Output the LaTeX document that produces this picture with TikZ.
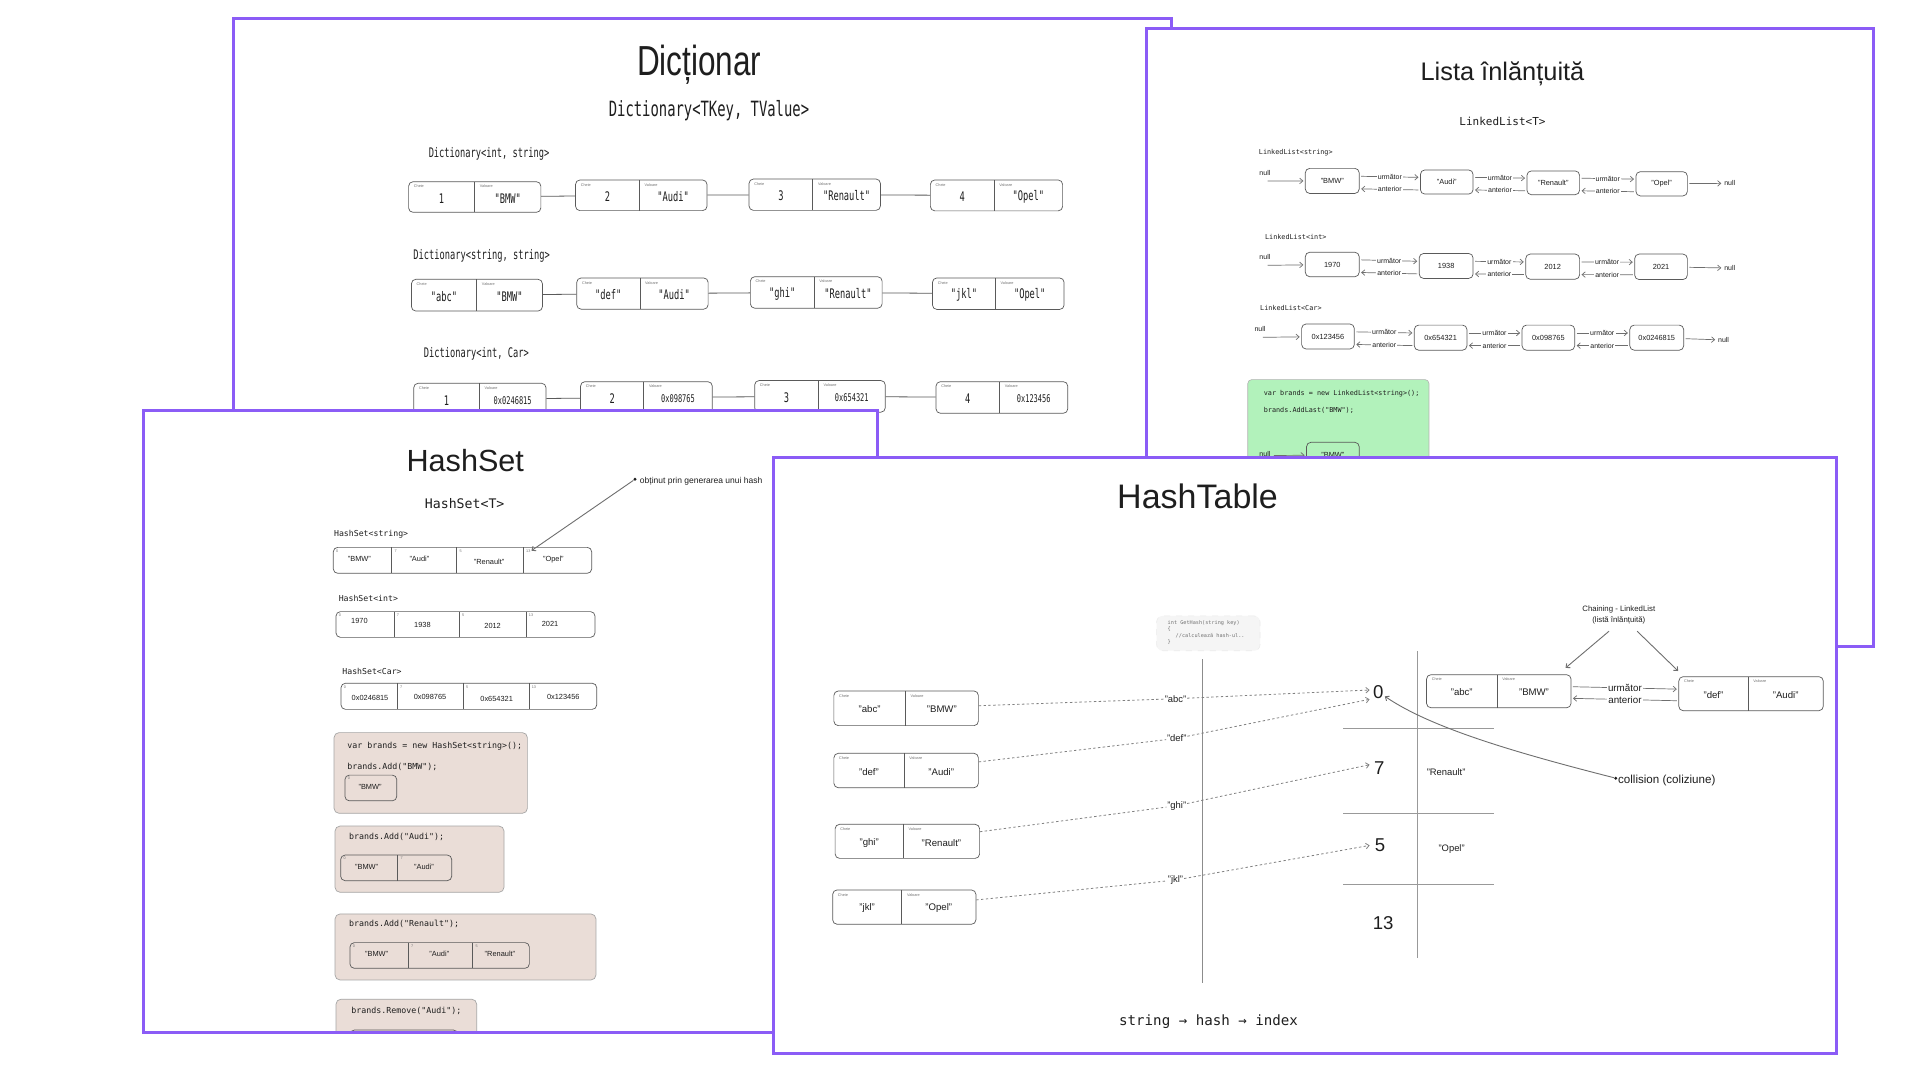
\documentclass[tikz,border=0pt]{standalone}
\usepackage{fontspec}
\setmainfont{Liberation Sans}
\newfontfamily\monof{DejaVu Sans Mono}
\newfontfamily\dmono[FakeStretch=0.66]{DejaVu Sans Mono}
\newfontfamily\dtitle[FakeStretch=0.75]{Liberation Sans}
\usetikzlibrary{arrows.meta}
\newcommand\fsz[1]{\fontsize{#1}{#1}\selectfont}
\def\U{0.6122pt}
\definecolor{panelc}{HTML}{8B5CF6}
\definecolor{beige}{HTML}{EADDD7}
\definecolor{mint}{HTML}{B2F2BB}
\definecolor{strokec}{HTML}{5A5A5A}
\definecolor{inkc}{HTML}{1E1E1E}
\definecolor{linec}{HTML}{6E6E6E}
\tikzset{
  panel/.style={draw=panelc, line width=1.5pt, fill=white},
  box/.style={draw=strokec, line width=0.35pt, rounded corners=2.2pt, inner sep=0pt},
  divl/.style={draw=strokec, line width=0.35pt},
  tinyl/.style={font=\fsz{1.9pt}, text=black!55, inner sep=0pt},
  txt/.style={inner sep=0.5pt, text=inkc},
  dval/.style={txt, font=\dmono\fsz{6.6pt}},
  dlab/.style={txt, font=\dmono\fsz{6.6pt}, anchor=west},
  dconn/.style={draw=strokec, line width=0.4pt},
  tip/.style={-{Straight Barb[length=1.6pt,width=2.8pt]}},
  llarr/.style={draw=linec, line width=0.35pt, tip, shorten <=0.8pt, shorten >=0.8pt},
  lllab/.style={txt, font=\fsz{3.5pt}, fill=white, inner sep=0.6pt},
  htlab/.style={txt, font=\fsz{4.9pt}, fill=white, inner sep=0.6pt},
  llbox/.style={box, font=\fsz{3.7pt}, text=inkc},
  llname/.style={txt, font=\monof\fsz{3.4pt}, anchor=west},
  nulll/.style={txt, font=\fsz{3.5pt}},
  gbox/.style={draw=black!30, fill=mint, line width=0.3pt, rounded corners=2pt, inner sep=0pt},
  bbox/.style={draw=black!35, fill=beige, line width=0.35pt, rounded corners=2.5pt, inner sep=0pt},
  hslab/.style={txt, font=\monof\fsz{4.1pt}, anchor=west},
  hsval/.style={txt, font=\fsz{3.7pt}},
  hscode/.style={txt, font=\monof\fsz{4.15pt}, anchor=west},
  htkv/.style={txt, font=\fsz{4.8pt}},
  hl/.style={txt, font=\fsz{4.7pt}, inner sep=0.3pt},
  dotl/.style={draw=black!50, line width=0.4pt, dash pattern=on 1.2pt off 1.2pt},
  tabl/.style={draw=black!40, line width=0.5pt},
  idxn/.style={txt, font=\fsz{9.3pt}},
  grayarr/.style={draw=linec, line width=0.45pt, tip},
  codebox/.style={fill=black!4, draw=black!8, line width=0.3pt, dashed, rounded corners=3pt, inner sep=0pt},
}
\newcommand\rb[6]{\node[#1, minimum width={(#5-#3)*\U}, minimum height={(#6-#4)*\U}] (#2) at ({(#3+#5)/2},{(#4+#6)/2})}
\newcommand\kvb[9]{%
  \rb{box}{#1}{#2}{#5}{#4}{#6}{};
  \draw[divl] (#3,#5) -- (#3,#6);
  \node[tinyl, anchor=north west] (#1c) at (#2+4,#5+2.5) {Cheie};
  \node[tinyl, anchor=north west] (#1w) at (#3+4,#5+2.5) {Valoare};
  \node[#9] (#1k) at ({(#2+#3)/2},{(#5+#6)/2+1}) {#7};
  \node[#9] (#1v) at ({(#3+#4)/2},{(#5+#6)/2+1}) {#8};
}
\newcommand\lllink[5]{%
  \draw[llarr] ([yshift={#3*\U}]#1.east) -- node[#5] (#1#2u) {următor} ([yshift={#3*\U}]#2.west);
  \draw[llarr] ([yshift={-#4*\U}]#2.west) -- node[#5] (#1#2a) {anterior} ([yshift={-#4*\U}]#1.east);
}
\newcommand\hsc[7]{%
  \node[tinyl, anchor=north west] (#1i) at (#2+2,#3+1.5) {#4};
  \node[hsval] (#1) at (#5,#6) {#7};
}
\begin{document}
\begin{tikzpicture}[x=0.6122pt, y=-0.6122pt]
\useasboundingbox[fill=white] (0,0) rectangle (1568,882);

% ================= Dictionary =================
\draw[panel] (191,15) rectangle (957,450);
\node[txt, font=\dtitle\fsz{21pt}] (dtitle) at (571,53) {Dicționar};
\node[txt, font=\dmono\fsz{10.5pt}] (dsub) at (579,90) {Dictionary<TKey, TValue>};
\node[dlab] (dl1) at (349,126) {Dictionary<int, string>};
\node[dlab] (dl2) at (336.5,209) {Dictionary<string, string>};
\node[dlab] (dl3) at (345,289) {Dictionary<int, Car>};

\kvb{d11}{333.7}{387.6}{441.7}{148.4}{173.4}{1}{"BMW"}{dval}
\kvb{d12}{470}{522.2}{577.4}{147}{172}{2}{"Audi"}{dval}
\kvb{d13}{611.7}{663.8}{719}{146.2}{171.8}{3}{"Renault"}{dval}
\kvb{d14}{759.8}{811.8}{867.8}{147}{172.2}{4}{"Opel"}{dval}
\draw[dconn] (d11) -- (d12);
\draw[dconn] (d12) -- (d13);
\draw[dconn] (d13) -- (d14);

\kvb{d21}{336}{389.3}{443}{228.1}{254}{"abc"}{"BMW"}{dval}
\kvb{d22}{471}{522.6}{578.3}{227}{252.5}{"def"}{"Audi"}{dval}
\kvb{d23}{612.8}{664.8}{720.4}{226}{251.7}{"ghi"}{"Renault"}{dval}
\kvb{d24}{761.5}{812.9}{869}{227}{252.7}{"jkl"}{"Opel"}{dval}
\draw[dconn] (d21) -- (d22);
\draw[dconn] (d22) -- (d23);
\draw[dconn] (d23) -- (d24);

\kvb{d31}{337.9}{391.5}{445.9}{313}{339}{1}{\fsz{5.3pt}0x0246815}{dval}
\kvb{d32}{474.1}{525.7}{581.7}{311.7}{337.5}{2}{\fsz{5.3pt}0x098765}{dval}
\kvb{d33}{616.3}{668.3}{723}{310.8}{336.6}{3}{\fsz{5.3pt}0x654321}{dval}
\kvb{d34}{764.4}{816.4}{872}{311.7}{337.5}{4}{\fsz{5.3pt}0x123456}{dval}
\draw[dconn] (d31) -- (d32);
\draw[dconn] (d32) -- (d33);
\draw[dconn] (d33) -- (d34);

% ================= Linked list =================
\draw[panel] (936,23) rectangle (1530,528);
\node[txt, font=\fsz{12.7pt}] (lltitle) at (1227,60) {Lista înlănțuită};
\node[txt, font=\monof\fsz{5.5pt}] (llsub) at (1227,99) {LinkedList<T>};

% row 1
\node[llname] (ln1) at (1027,124.7) {LinkedList<string>};
\node[nulll] (n1) at (1033,141.5) {null};
\coordinate (s1) at (1034,147.8);
\rb{llbox}{a1}{1066}{137.5}{1110}{158}{"BMW"};
\rb{llbox}{a2}{1160}{138.8}{1203}{158.5}{"Audi"};
\rb{llbox}{a3}{1247}{139.6}{1290}{159}{"Renault"};
\rb{llbox}{a4}{1336}{140.2}{1378}{160}{"Opel"};
\draw[llarr] (s1) -- (a1);
\lllink{a1}{a2}{3.8}{6.5}{lllab}
\lllink{a2}{a3}{3.8}{6.5}{lllab}
\lllink{a3}{a4}{3.8}{6.5}{lllab}
\node[nulll, anchor=west] (r1) at (1407,149.7) {null};
\draw[llarr] (a4) -- (r1);

% row 2
\node[llname] (ln2) at (1032,193.3) {LinkedList<int>};
\node[nulll] (n2) at (1033,210.1) {null};
\coordinate (s2) at (1034,216.7);
\rb{llbox}{b1}{1066}{206}{1110}{226}{1970};
\rb{llbox}{b2}{1159}{207}{1203}{227.4}{1938};
\rb{llbox}{b3}{1246}{207.5}{1290}{228}{2012};
\rb{llbox}{b4}{1335}{207.5}{1378}{228.3}{2021};
\draw[llarr] (s2) -- (b1);
\lllink{b1}{b2}{3.8}{6.5}{lllab}
\lllink{b2}{b3}{3.8}{6.5}{lllab}
\lllink{b3}{b4}{3.8}{6.5}{lllab}
\node[nulll, anchor=west] (r2) at (1407,218.9) {null};
\draw[llarr] (b4) -- (r2);

% row 3
\node[llname] (ln3) at (1028,251.8) {LinkedList<Car>};
\node[nulll] (n3) at (1029,268.9) {null};
\coordinate (s3) at (1030,275.5);
\rb{llbox}{e1}{1063}{264.6}{1106}{285}{0x123456};
\rb{llbox}{e2}{1155}{265.5}{1198}{286}{0x654321};
\rb{llbox}{e3}{1243}{265.5}{1286}{286}{0x098765};
\rb{llbox}{e4}{1331}{265.5}{1375}{286}{0x0246815};
\draw[llarr] (s3) -- (e1);
\lllink{e1}{e2}{3.8}{6.5}{lllab}
\lllink{e2}{e3}{3.8}{6.5}{lllab}
\lllink{e3}{e4}{3.8}{6.5}{lllab}
\node[nulll, anchor=west] (r3) at (1402,277.7) {null};
\draw[llarr] (e4) -- (r3);

% green code box
\rb{gbox}{green}{1019}{310}{1167}{420}{};
\node[llname] (g1) at (1031,321.2) {var brands = new LinkedList<string>();};
\node[llname] (g2) at (1031,335.4) {brands.AddLast("BMW");};
\node[nulll] (gn) at (1033,370.5) {null};
\coordinate (gs) at (1039,372);
\rb{llbox}{gb}{1067}{361.2}{1110}{382}{"BMW"};
\draw[llarr] (gs) -- (gb);

% ================= HashSet =================
\draw[panel] (117,335) rectangle (717,843);
\begin{scope}
\clip (118,336) rectangle (716,842.3);
\node[txt, font=\fsz{15.3pt}] (hstitle) at (380,376) {HashSet};
\node[txt, font=\monof\fsz{6.6pt}] (hssub) at (379.5,411.6) {HashSet<T>};
\node[hslab] (hl1) at (271.7,436.1) {HashSet<string>};
\node[hslab] (hl2) at (275.5,488.6) {HashSet<int>};
\node[hslab] (hl3) at (278.5,548.5) {HashSet<Car>};

\rb{box}{h1}{272.2}{447}{483.2}{468.2}{};
\foreach \xx in {319.9,373,427.4} \draw[divl] (\xx,447) -- (\xx,468.2);
\hsc{h1a}{272.2}{447}{0}{293.5}{456.8}{"BMW"}
\hsc{h1b}{319.9}{447}{7}{342.5}{456.8}{"Audi"}
\hsc{h1c}{373}{447}{5}{399.4}{458.7}{"Renault"}
\hsc{h1d}{427.4}{447}{13}{451.9}{456.8}{"Opel"}

\rb{box}{h2}{274.4}{499.5}{485.9}{520.5}{};
\foreach \xx in {321.8,375.1,429.6} \draw[divl] (\xx,499.5) -- (\xx,520.5);
\hsc{h2a}{274.4}{499.5}{0}{293.5}{506.8}{1970}
\hsc{h2b}{321.8}{499.5}{7}{345}{510}{1938}
\hsc{h2c}{375.1}{499.5}{5}{402.3}{511.5}{2012}
\hsc{h2d}{429.6}{499.5}{13}{449.2}{509.6}{2021}

\rb{box}{h3}{278.5}{558}{487.3}{579.3}{};
\foreach \xx in {324.5,378.4,432} \draw[divl] (\xx,558) -- (\xx,579.3);
\hsc{h3a}{278.5}{558}{0}{302.2}{570.3}{0x0246815}
\hsc{h3b}{324.5}{558}{7}{351.2}{569}{0x098765}
\hsc{h3c}{378.4}{558}{5}{405.6}{570.6}{0x654321}
\hsc{h3d}{432}{558}{13}{460}{569}{0x123456}

\node[circle, fill=inkc, inner sep=0pt, minimum size=1.6pt] (adot) at (518.6,391.4) {};
\node[txt, font=\fsz{4.25pt}, anchor=west] (atext) at (521.5,393) {obținut prin generarea unui hash};
\coordinate (atip) at (434,449.7);
\draw[grayarr] (adot) -- (atip);

% step boxes
\rb{bbox}{bA}{272.8}{598.3}{430.7}{664.2}{};
\node[hscode] (cA1) at (282.5,609.2) {var brands = new HashSet<string>();};
\node[hscode] (cA2) at (282.5,626) {brands.Add("BMW");};
\rb{box}{iA}{281.7}{633}{324}{654}{};
\hsc{iAa}{281.7}{633}{0}{302.2}{642.4}{"BMW"}

\rb{bbox}{bB}{273.6}{674.6}{411.6}{728.7}{};
\node[hscode] (cB1) at (284,683.8) {brands.Add("Audi");};
\rb{box}{iB}{278.2}{698.3}{368.9}{719.2}{};
\draw[divl] (324.8,698.3) -- (324.8,719.2);
\hsc{iBa}{278.2}{698.3}{0}{299.4}{708.3}{"BMW"}
\hsc{iBb}{324.8}{698.3}{7}{346.3}{708.3}{"Audi"}

\rb{bbox}{bC}{273.6}{746.4}{486.7}{800.3}{};
\node[hscode] (cC1) at (284,754.6) {brands.Add("Renault");};
\rb{box}{iC}{285.8}{769.8}{432.3}{790.8}{};
\foreach \xx in {333.5,386} \draw[divl] (\xx,769.8) -- (\xx,790.8);
\hsc{iCa}{285.8}{769.8}{0}{307.6}{779}{"BMW"}
\hsc{iCb}{333.5}{769.8}{7}{358.8}{779}{"Audi"}
\hsc{iCc}{386}{769.8}{5}{408.3}{779}{"Renault"}

\rb{bbox}{bD}{274.4}{816}{389.3}{880}{};
\node[hscode] (cD1) at (285.9,825.4) {brands.Remove("Audi");};
\rb{box}{iD}{285.8}{841.2}{374}{862}{};
\end{scope}
\draw[draw=panelc, line width=1.5pt] (117,335) rectangle (717,843);

% ================= HashTable =================
\draw[panel] (632,374) rectangle (1500,860);
\node[txt, font=\fsz{17pt}] (httitle) at (978,405) {HashTable};

\rb{codebox}{cb}{944.6}{503}{1029}{531.4}{};
\node[txt, anchor=north west, align=left, text=black!55, font={\monof\fontsize{2.6pt}{3.2pt}\selectfont}] (cbt) at (952.5,505.5)
  {int GetHash(string key)\\\{\\\hspace{4pt}//calculează hash-ul..\\\}};

\draw[draw=black!45, line width=0.8pt] (982,538.5) -- (982,803);

\draw[tabl] (1157.5,532) -- (1157.5,782);
\foreach \yy in {595.3,664,722.5} \draw[tabl] (1097,\yy) -- (1220,\yy);
\node[idxn] (i0) at (1125.6,565) {0};
\node[idxn] (i7) at (1126.4,627.5) {7};
\node[idxn] (i5) at (1127,690) {5};
\node[idxn] (i13) at (1129.6,754) {13};
\node[htkv, font=\fsz{4.7pt}] (tv7) at (1181,630.7) {"Renault"};
\node[htkv, font=\fsz{4.7pt}] (tv5) at (1185.5,693) {"Opel"};

\kvb{k1}{681}{739.3}{799}{564.3}{592.6}{"abc"}{"BMW"}{htkv}
\kvb{k2}{681}{738.3}{799}{615.2}{643.3}{"def"}{"Audi"}{htkv}
\kvb{k3}{682}{737.7}{800}{673.2}{701}{"ghi"}{"Renault"}{htkv}
\kvb{k4}{680}{736.4}{797}{726.8}{754.8}{"jkl"}{"Opel"}{htkv}

\node[hl, fill=white] (la) at (960,570.6) {"abc"};
\node[hl, fill=white] (ld) at (961,603) {"def"};
\node[hl, fill=white] (lg) at (961,658) {"ghi"};
\node[hl, fill=white] (lj) at (960,718.7) {"jkl"};
\coordinate (e0a) at (1118.5,563.5);
\coordinate (e0b) at (1118.5,571.1);
\coordinate (e7) at (1118.5,624.5);
\coordinate (e5) at (1118.5,690.4);
\draw[dotl] (k1) -- (la);
\draw[dotl, tip] (la) -- (e0a);
\draw[dotl] (k2) -- (ld);
\draw[dotl, tip] (ld) -- (e0b);
\draw[dotl] (k3) -- (lg);
\draw[dotl, tip] (lg) -- (e7);
\draw[dotl] (k4) -- (lj);
\draw[dotl, tip] (lj) -- (e5);

% chaining
\node[txt, align=center, font={\fontsize{3.9pt}{5.5pt}\selectfont}] (chn) at (1322,502.5) {Chaining - LinkedList\\(listă înlănțuită)};
\kvb{c1}{1165}{1222.5}{1283}{551}{578}{"abc"}{"BMW"}{htkv}
\kvb{c2}{1371}{1427.6}{1489}{552.6}{580.4}{"def"}{"Audi"}{htkv}
\lllink{c1}{c2}{3.7}{5.8}{htlab}
\coordinate (chA1) at (1314,515.5);
\coordinate (chA2) at (1278.5,545.5);
\coordinate (chB1) at (1337,515.5);
\coordinate (chB2) at (1370.5,548);
\draw[grayarr] (chA1) -- (chA2);
\draw[grayarr] (chB1) -- (chB2);

% collision
\node[circle, fill=inkc, inner sep=0pt, minimum size=1.6pt] (cdot) at (1319.5,635.5) {};
\node[txt, font=\fsz{5.8pt}, anchor=west] (ctext) at (1320.3,637) {collision (coliziune)};
\draw[grayarr] (cdot) .. controls (1235,614) and (1168,594) .. (i0);

\node[txt, font=\monof\fsz{7.07pt}] (flow) at (987,834) {string → hash → index};
\end{tikzpicture}
\end{document}
